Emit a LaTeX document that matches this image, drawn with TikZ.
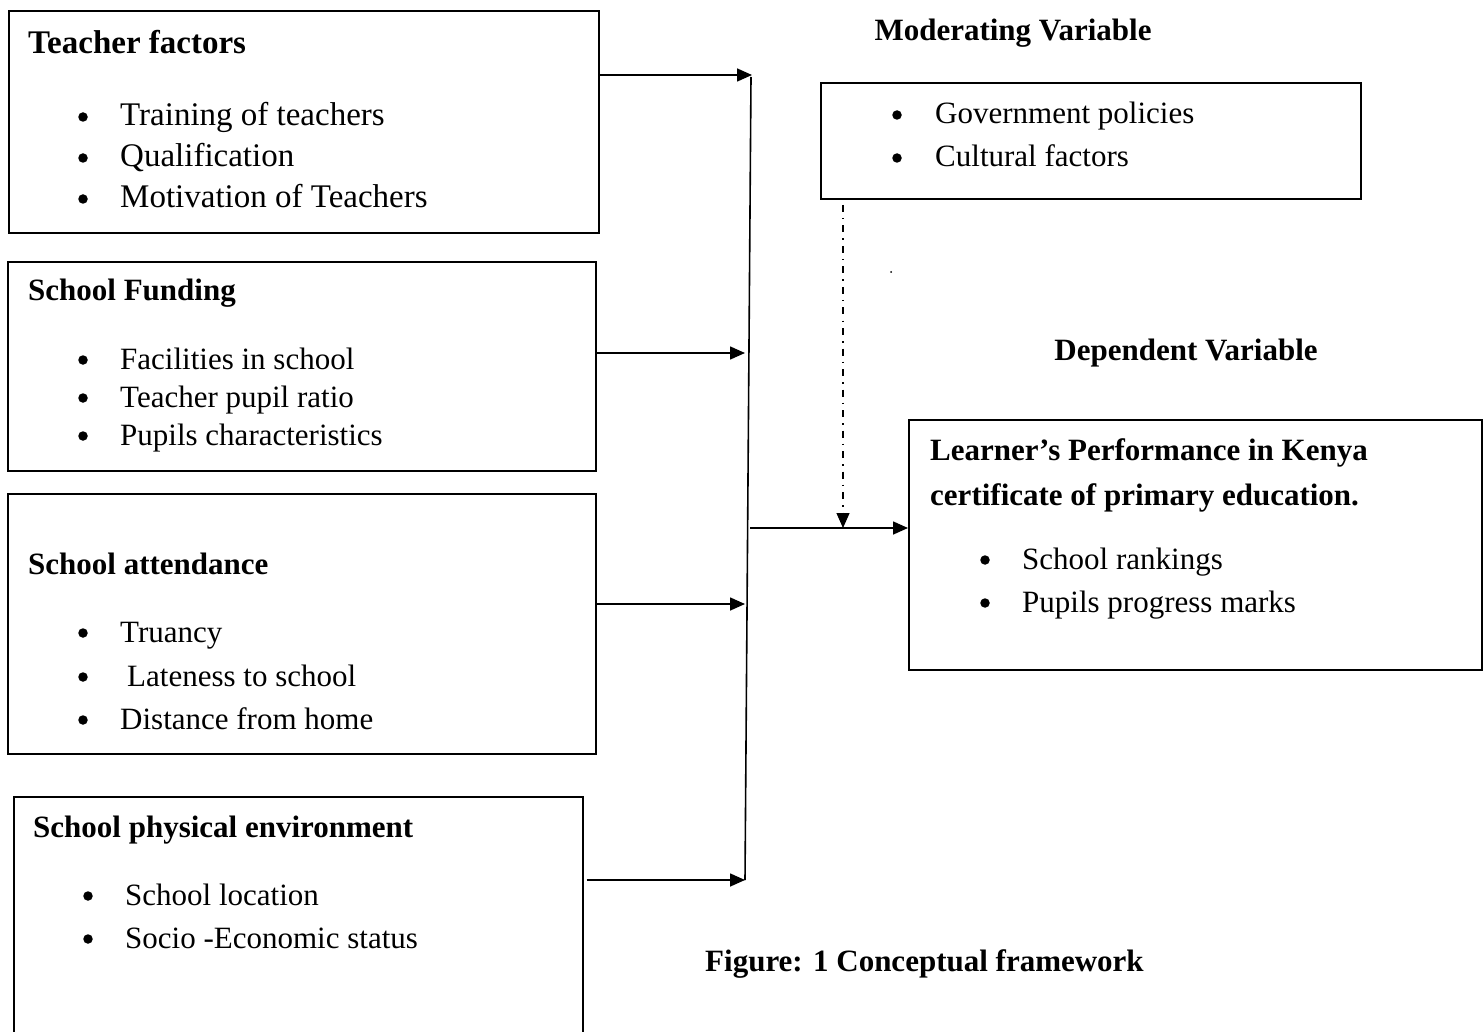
\documentclass[tikz,border=0pt]{standalone}
\usepackage{fontspec}
\setmainfont{Liberation Serif}
\usetikzlibrary{arrows.meta}
\begin{document}
\begin{tikzpicture}[x=1pt,y=-1pt,
  box/.style={draw, line width=1.6pt, inner sep=0pt, anchor=north west},
  txt/.style={anchor=base west, inner sep=0pt, font=\fontsize{31}{37}\selectfont},
  hd/.style={anchor=base west, inner sep=0pt, font=\fontsize{31}{37}\selectfont\bfseries},
  bigtxt/.style={anchor=base west, inner sep=0pt, font=\fontsize{33}{40}\selectfont},
  bighd/.style={anchor=base west, inner sep=0pt, font=\fontsize{33}{40}\selectfont\bfseries},
  title/.style={anchor=base, inner sep=0pt, font=\fontsize{31}{37}\selectfont\bfseries},
  bul/.style={circle, fill, inner sep=0pt, minimum size=9.5pt},
  arr/.style={line width=1.6pt, -{Triangle[length=15pt,width=13pt]}}]
\useasboundingbox (0,0) rectangle (1483,1032);

% ---- Box 1: Teacher factors
\node[box, minimum width=590pt, minimum height=222pt] (b1) at (8,10) {};
\node[bighd] (h1) at (28,54) {Teacher factors};
\node[bul] (d11) at (83,117) {};
\node[bigtxt] (t11) at (120,126) {Training of teachers};
\node[bul] (d12) at (83,158) {};
\node[bigtxt] (t12) at (120,167) {Qualification};
\node[bul] (d13) at (83,199) {};
\node[bigtxt] (t13) at (120,208) {Motivation of Teachers};

% ---- Box 2: School Funding
\node[box, minimum width=588pt, minimum height=209pt] (b2) at (7,261) {};
\node[hd] (h2) at (28,301) {School Funding};
\node[bul] (d21) at (83,360) {};
\node[txt] (t21) at (120,369) {Facilities in school};
\node[bul] (d22) at (83,398) {};
\node[txt] (t22) at (120,407) {Teacher pupil ratio};
\node[bul] (d23) at (83,436) {};
\node[txt] (t23) at (120,445) {Pupils characteristics};

% ---- Box 3: School attendance
\node[box, minimum width=588pt, minimum height=260pt] (b3) at (7,493) {};
\node[hd] (h3) at (28,574) {School attendance};
\node[bul] (d31) at (83,633) {};
\node[txt] (t31) at (120,642) {Truancy};
\node[bul] (d32) at (83,677) {};
\node[txt] (t32) at (127,686) {Lateness to school};
\node[bul] (d33) at (83,720) {};
\node[txt] (t33) at (120,729) {Distance from home};

% ---- Box 4: School physical environment
\node[box, minimum width=569pt, minimum height=260pt] (b4) at (13,796) {};
\node[hd] (h4) at (33,837) {School physical environment};
\node[bul] (d41) at (88,896) {};
\node[txt] (t41) at (125,905) {School location};
\node[bul] (d42) at (88,939) {};
\node[txt] (t42) at (125,948) {Socio -Economic status};

% ---- Moderating variable
\node[title] (mt) at (1013,41) {Moderating Variable};
\node[box, minimum width=540pt, minimum height=116pt] (mb) at (820,82) {};
\node[bul] (dm1) at (897,115) {};
\node[txt] (tm1) at (935,124) {Government policies};
\node[bul] (dm2) at (897,158) {};
\node[txt] (tm2) at (935,167) {Cultural factors};

% ---- Dependent variable
\node[title] (dt) at (1186,360) {Dependent Variable};
\node[box, minimum width=573pt, minimum height=250pt] (db) at (908,419) {};
\node[hd] (dh1) at (930,460) {Learner’s Performance in Kenya};
\node[hd] (dh2) at (930,505) {certificate of primary education.};
\node[bul] (dd1) at (985,560) {};
\node[txt] (td1) at (1022,569) {School rankings};
\node[bul] (dd2) at (985,603) {};
\node[txt] (td2) at (1022,612) {Pupils progress marks};

% ---- Caption
\node[hd] (cap) at (705,971) {Figure: 1 Conceptual framework};

% ---- Connectors
\coordinate (top) at (752,75);
\coordinate (ttop) at (751,77);
\coordinate (tbot) at (745,880);
\coordinate (a2) at (745,353);
\coordinate (a3) at (745,604);
\coordinate (outs) at (750,528);
\coordinate (mods) at (843,205);
\coordinate (mode) at (843,528);

\draw[line width=1.6pt] (ttop) -- (tbot);
\draw[arr] (b1.east |- top) -- (top);
\draw[arr] (b2.east |- a2) -- (a2);
\draw[arr] (b3.east |- a3) -- (a3);
\draw[arr] ([xshift=3pt]b4.east |- tbot) -- (tbot);
\draw[arr] (outs) -- (db.west |- outs);
\draw[line width=1.3pt, dash pattern=on 7pt off 6pt on 1.5pt off 6pt, -{Triangle[length=15pt,width=13pt]}] (mods) -- (mode);
\fill (891,272) circle (1pt);
\end{tikzpicture}
\end{document}
